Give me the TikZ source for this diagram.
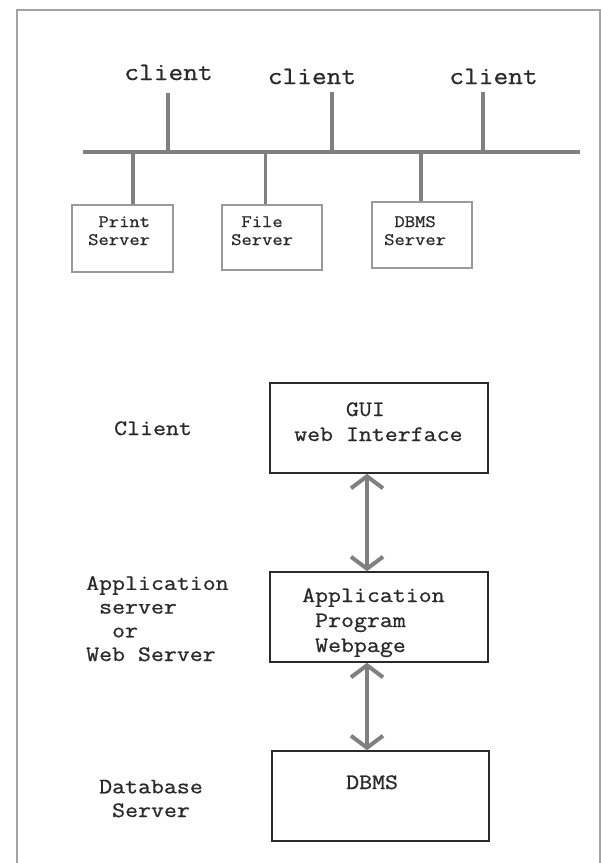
\documentclass[tikz,border=0pt]{standalone}
\usepackage{fontspec}
\setmainfont{Latin Modern Mono}[FakeStretch=1.143,FakeBold=0.8]
\usetikzlibrary{arrows.meta}
% one monospaced cell of leading space
\newcommand\ind{\hphantom{x}}
\definecolor{framegray}{HTML}{A4A4A4}
\definecolor{wiregray}{HTML}{808080}
\definecolor{boxgray}{HTML}{9A9A9A}
\definecolor{inkgray}{HTML}{2A2A2A}
\begin{document}
\begin{tikzpicture}[x=1pt,y=-1pt,
  wire/.style={wiregray,line width=3.5pt},
  srvbox/.style={draw=boxgray,line width=1.2pt},
  tierbox/.style={draw=inkgray,line width=1.5pt},
  link/.style={wiregray,line width=4pt,
    {Straight Barb[length=12pt,width=32pt,line width=4pt]}-{Straight Barb[length=12pt,width=32pt,line width=4pt]}},
  txt/.style={text=inkgray,inner sep=0pt,align=left,anchor=base west},
  small/.style={txt,font=\fontsize{17.5}{18}\selectfont},
  label/.style={txt,font=\fontsize{22}{23.7}\selectfont},
  inbox/.style={txt,font=\fontsize{22}{25}\selectfont},
  clienttxt/.style={text=inkgray,inner sep=0pt,anchor=base,font=\fontsize{25}{28}\selectfont}]
\useasboundingbox (0,0) rectangle (601,863);
\fill[white] (0,0) rectangle (601,863);
% outer frame
\draw[framegray,line width=2pt] (17,863) -- (17,10) -- (600,10) -- (600,863);

% ---- shared bus ----
\coordinate (busL) at (83,152);
\coordinate (busR) at (580,152);
\draw[wire] (busL) -- (busR);

% clients on top of the bus
\node[clienttxt] (c1) at (168.5,80) {client};
\node[clienttxt] (c2) at (312,84) {client};
\node[clienttxt] (c3) at (493.5,84) {client};
\coordinate (c1t) at (168,93);  \coordinate (c1b) at (168,152);
\coordinate (c2t) at (332,92);  \coordinate (c2b) at (332,152);
\coordinate (c3t) at (483,92);  \coordinate (c3b) at (483,152);
\draw[wire] (c1t) -- (c1b);
\draw[wire] (c2t) -- (c2b);
\draw[wire] (c3t) -- (c3b);

% servers hanging from the bus
\node[srvbox,minimum width=101pt,minimum height=67pt,inner sep=0pt] (ps) at (122.5,238.5) {};
\node[srvbox,minimum width=100pt,minimum height=65pt,inner sep=0pt] (fs) at (272,237.5) {};
\node[srvbox,minimum width=100pt,minimum height=66pt,inner sep=0pt] (ds) at (422,235) {};
\coordinate (p1) at (133,152); \coordinate (f1) at (265.5,152); \coordinate (d1) at (421,152);
\draw[wire] (p1) -- (p1 |- ps.north);
\draw[wire] (f1) -- (f1 |- fs.north);
\draw[wire] (d1) -- (d1 |- ds.north);
% multi-line blocks are placed by the baseline of their last line
\node[small] (pst) at (88,245) {\ind Print\\Server};
\node[small] (fst) at (231,245) {\ind File\\Server};
\node[small] (dst) at (384,245) {\ind DBMS\\Server};

% ---- three tiers ----
\node[label] (lcl) at (114,435) {Client};
\node[label] (lap) at (86,661) {Application\\\ind server\\\ind\ind or\\Web Server};
\node[label] (ldb) at (99,817) {Database\\\ind Server};

\node[tierbox,minimum width=218pt,minimum height=90pt,inner sep=0pt] (gui) at (379,428) {};
\node[tierbox,minimum width=218pt,minimum height=90pt,inner sep=0pt] (app) at (379,617) {};
\node[tierbox,minimum width=217pt,minimum height=90pt,inner sep=0pt] (db) at (380.5,796) {};
\node[inbox] (guit) at (294,441) {\ind\ind\ind\ind GUI\\web Interface};
\node[inbox] (appt) at (302,652) {Application\\\ind Program\\\ind Webpage};
\node[inbox] (dbt) at (346,789) {DBMS};

\coordinate (a1) at (367,0);
\draw[link] (a1 |- gui.south) -- (a1 |- app.north);
\draw[link] (a1 |- app.south) -- (a1 |- db.north);
\end{tikzpicture}
\end{document}
